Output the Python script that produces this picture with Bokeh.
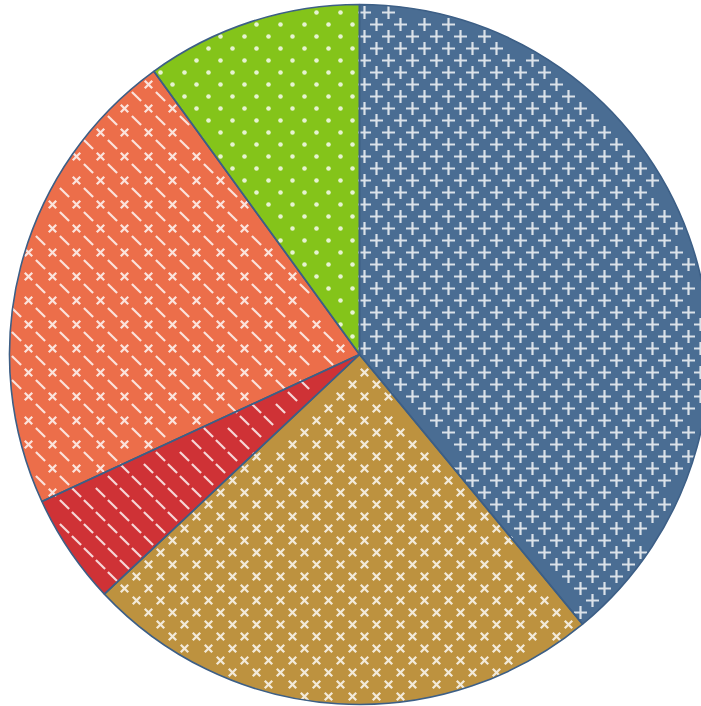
import math
import numpy as np
from bokeh.plotting import figure
from bokeh.models import ColumnDataSource, Range1d
from bokeh.embed import file_html
from bokeh.resources import INLINE

# ---- data ----
categories = ["A", "B", "C", "D", "E"]
values = [39.0, 24.0, 5.1, 21.9, 10.0]
colors = ["#4a6d93", "#bd923f", "#cf3236", "#ec6e4a", "#84c41a"]
# pattern per slice: mark at lattice A, mark at lattice B
pattern_marks = [("plus", "plus"), ("x", "x"), ("dash", "dash"), ("x", "dash"), ("dot", "dot")]

W, H = 701, 706
CX, CY, R = 359, H - 354, 350
EDGE = "#3d5f86"
MARK = "white"
MARK_ALPHA = 0.8

total = sum(values)
cum = np.concatenate([[0.0], np.cumsum(values)]) / total * 2 * math.pi  # clockwise from top
starts = [math.pi / 2 - a for a in cum[:-1]]
ends = [math.pi / 2 - a for a in cum[1:]]

src = ColumnDataSource(dict(cat=categories, val=values, color=colors,
                            start=starts, end=ends,
                            x=[CX] * len(values), y=[CY] * len(values)))

p = figure(width=W, height=H, output_backend="svg", toolbar_location=None,
           x_range=Range1d(0, W), y_range=Range1d(0, H), min_border=0)
p.axis.visible = False
p.grid.visible = False
p.outline_line_color = None

# slices (fill)
p.wedge(x="x", y="y", radius=R, start_angle="start", end_angle="end",
        direction="clock", source=src, fill_color="color", line_color=None)

# ---- decorative pattern marks (24px staggered lattice, clipped to each slice) ----
STEP = 24
HALF = {"plus": 6.5, "x": 4.5, "dash": 5.0, "dot": 2.2}


def lattice(ox, oy):
    xs = np.arange(ox - STEP, W + STEP, STEP)
    ys = np.arange(oy - STEP, H + STEP, STEP)
    gx, gy = np.meshgrid(xs, ys)
    return gx.ravel().astype(float), (H - gy.ravel()).astype(float)


lat = {"A": lattice(4, 12), "B": lattice(16, 0)}


def inside(px, py, k, margin):
    dx, dy = px - CX, py - CY
    r = np.hypot(dx, dy)
    ang = np.mod(np.arctan2(dx, dy), 2 * math.pi)
    a0, a1 = cum[k], cum[k + 1]
    ok = (ang >= a0) & (ang < a1) & (r <= R - margin)
    for a in (a0, a1):
        ux, uy = math.sin(a), math.cos(a)
        d = np.abs(ux * dy - uy * dx)
        proj = ux * dx + uy * dy
        ok &= (d >= margin) | (proj < 0)
    return ok


groups = {m: ([], []) for m in HALF}
for k, (ma, mb) in enumerate(pattern_marks):
    for key, m in (("A", ma), ("B", mb)):
        px, py = lat[key]
        sel = inside(px, py, k, HALF[m] * 0.75)
        groups[m][0].extend(px[sel].tolist())
        groups[m][1].extend(py[sel].tolist())

p.scatter(groups["plus"][0], groups["plus"][1], marker="cross", size=13,
          line_color=MARK, line_alpha=MARK_ALPHA, line_width=2.2)
p.scatter(groups["x"][0], groups["x"][1], marker="x", size=10.5,
          line_color=MARK, line_alpha=MARK_ALPHA, line_width=2.3)
p.scatter(groups["dash"][0], groups["dash"][1], marker="dash", size=13, angle=-math.pi / 4,
          line_color=MARK, line_alpha=MARK_ALPHA, line_width=2.2)
p.scatter(groups["dot"][0], groups["dot"][1], marker="circle", size=4.6,
          fill_color=MARK, fill_alpha=MARK_ALPHA, line_color=None)

# slice outlines on top
p.wedge(x="x", y="y", radius=R, start_angle="start", end_angle="end",
        direction="clock", source=src, fill_color=None, line_color=EDGE, line_width=1.6)

open("out.html", "w").write(file_html(p, INLINE))
